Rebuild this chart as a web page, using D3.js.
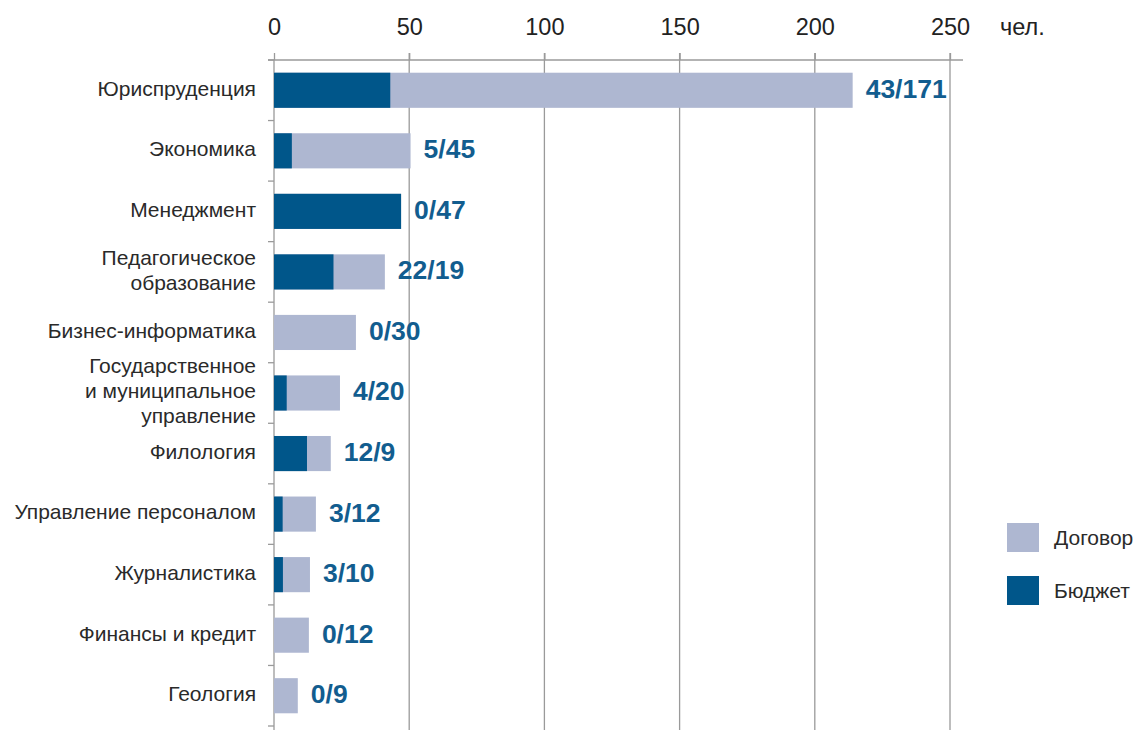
<!DOCTYPE html>
<html>
<head>
<meta charset="utf-8">
<script src="https://cdn.jsdelivr.net/npm/d3@7"></script>
<style>
  body { margin: 0; background: #fff; }
  svg { font-family: "Liberation Sans", Arial, sans-serif; }
</style>
</head>
<body>
<div id="chart"></div>
<script>
// values (bars don't always agree with the printed labels)
let categories = [
  "Юриспруденция",
  "Экономика",
  "Менеджмент",
  "Педагогическое\nобразование",
  "Бизнес-информатика",
  "Государственное\nи муниципальное\nуправление",
  "Филология",
  "Управление персоналом",
  "Журналистика",
  "Финансы и кредит",
  "Геология"
];
let budget   = [43, 6.6, 47, 22, 0, 4.7, 12.2, 3.2, 3.3, 0, 0];
let contract = [171, 43.9, 0, 19, 30.3, 19.7, 8.8, 12.3, 10, 12.9, 8.8];
let valueLabels = ["43/171", "5/45", "0/47", "22/19", "0/30", "4/20", "12/9", "3/12", "3/10", "0/12", "0/9"];
let xTicks = [0, 50, 100, 150, 200, 250];
let seriesNames = ["Договор", "Бюджет"];

let width = 1139, height = 730;
let mLeft = 274, mRight = 950, mTop = 60, mBottom = 726;

let colDark = "#00568a", colLight = "#aeb7d1", colGrid = "#9a9a9a";

let svg = d3.select("#chart").append("svg")
  .attr("width", width)
  .attr("height", height);

let x = d3.scaleLinear().domain([0, 250]).range([mLeft, mRight]);
let y = d3.scaleBand().domain(categories).range([mTop, mBottom]).paddingInner(0.42).paddingOuter(0.21);

let data = categories.map((c, i) => ({
  cat: c, budget: budget[i], contract: contract[i], label: valueLabels[i]
}));

// gridlines
svg.append("g").selectAll("line")
  .data(xTicks.filter(t => t > 0))
  .enter().append("line")
  .attr("x1", d => x(d)).attr("x2", d => x(d))
  .attr("y1", mTop - 7).attr("y2", height)
  .attr("stroke", colGrid).attr("stroke-width", 1.3);

// top axis
let xAxis = svg.append("g")
  .attr("transform", "translate(0," + mTop + ")")
  .call(d3.axisTop(x).tickValues(xTicks).tickSize(7).tickPadding(18));
xAxis.select(".domain").remove();
xAxis.selectAll(".tick line").attr("stroke", colGrid).attr("stroke-width", 1.3);
xAxis.selectAll(".tick text").attr("fill", "#222").style("font-size", "23.5px")
  .style("font-family", "'Liberation Sans', Arial, sans-serif");
svg.append("line")
  .attr("x1", mLeft - 6).attr("x2", mRight + 13)
  .attr("y1", mTop).attr("y2", mTop)
  .attr("stroke", colGrid).attr("stroke-width", 1.3);

svg.append("text")
  .attr("x", 1000).attr("y", 35)
  .attr("fill", "#222").style("font-size", "23.5px")
  .text("чел.");

// left axis + category ticks
svg.append("line")
  .attr("x1", mLeft).attr("x2", mLeft)
  .attr("y1", mTop).attr("y2", height)
  .attr("stroke", colGrid).attr("stroke-width", 1.3);

let step = y.step();
svg.append("g").selectAll("line")
  .data(d3.range(categories.length + 1))
  .enter().append("line")
  .attr("x1", mLeft - 6).attr("x2", mLeft)
  .attr("y1", i => mTop + i * step).attr("y2", i => mTop + i * step)
  .attr("stroke", colGrid).attr("stroke-width", 1.3);

// bars
let rows = svg.append("g").selectAll("g")
  .data(data)
  .enter().append("g");

rows.append("rect")
  .attr("x", x(0))
  .attr("y", d => y(d.cat))
  .attr("height", y.bandwidth())
  .attr("width", d => x(d.budget + d.contract) - x(0))
  .attr("fill", colLight);

rows.append("rect")
  .attr("x", x(0))
  .attr("y", d => y(d.cat))
  .attr("height", y.bandwidth())
  .attr("width", d => x(d.budget) - x(0))
  .attr("fill", colDark);

rows.append("text")
  .attr("x", d => x(d.budget + d.contract) + 13)
  .attr("y", d => y(d.cat) + y.bandwidth() / 2)
  .attr("dy", "0.28em")
  .attr("fill", "#125d8f")
  .style("font-size", "26.5px")
  .style("font-weight", "bold")
  .text(d => d.label);

// category labels (multi-line)
let catText = svg.append("g").selectAll("text")
  .data(data)
  .enter().append("text")
  .attr("text-anchor", "end")
  .attr("fill", "#2a2a2a")
  .style("font-size", "21px");

catText.each(function(d) {
  let lines = d.cat.split("\n");
  let cy = y(d.cat) + y.bandwidth() / 2 - 2;
  let lh = 25;
  let first = cy - (lines.length - 1) * lh / 2;
  d3.select(this).selectAll("tspan")
    .data(lines)
    .enter().append("tspan")
    .attr("x", 256)
    .attr("y", (l, i) => first + i * lh)
    .attr("dy", "0.35em")
    .text(l => l);
});

// legend
let legend = svg.append("g").selectAll("g")
  .data(seriesNames)
  .enter().append("g")
  .attr("transform", (d, i) => "translate(1007," + (523 + i * 53) + ")");

legend.append("rect")
  .attr("width", 32).attr("height", 29)
  .attr("fill", (d, i) => i === 0 ? colLight : colDark);

legend.append("text")
  .attr("x", 47).attr("y", 15)
  .attr("dy", "0.35em")
  .attr("fill", "#2a2a2a")
  .style("font-size", "21px")
  .text(d => d);
</script>
</body>
</html>
